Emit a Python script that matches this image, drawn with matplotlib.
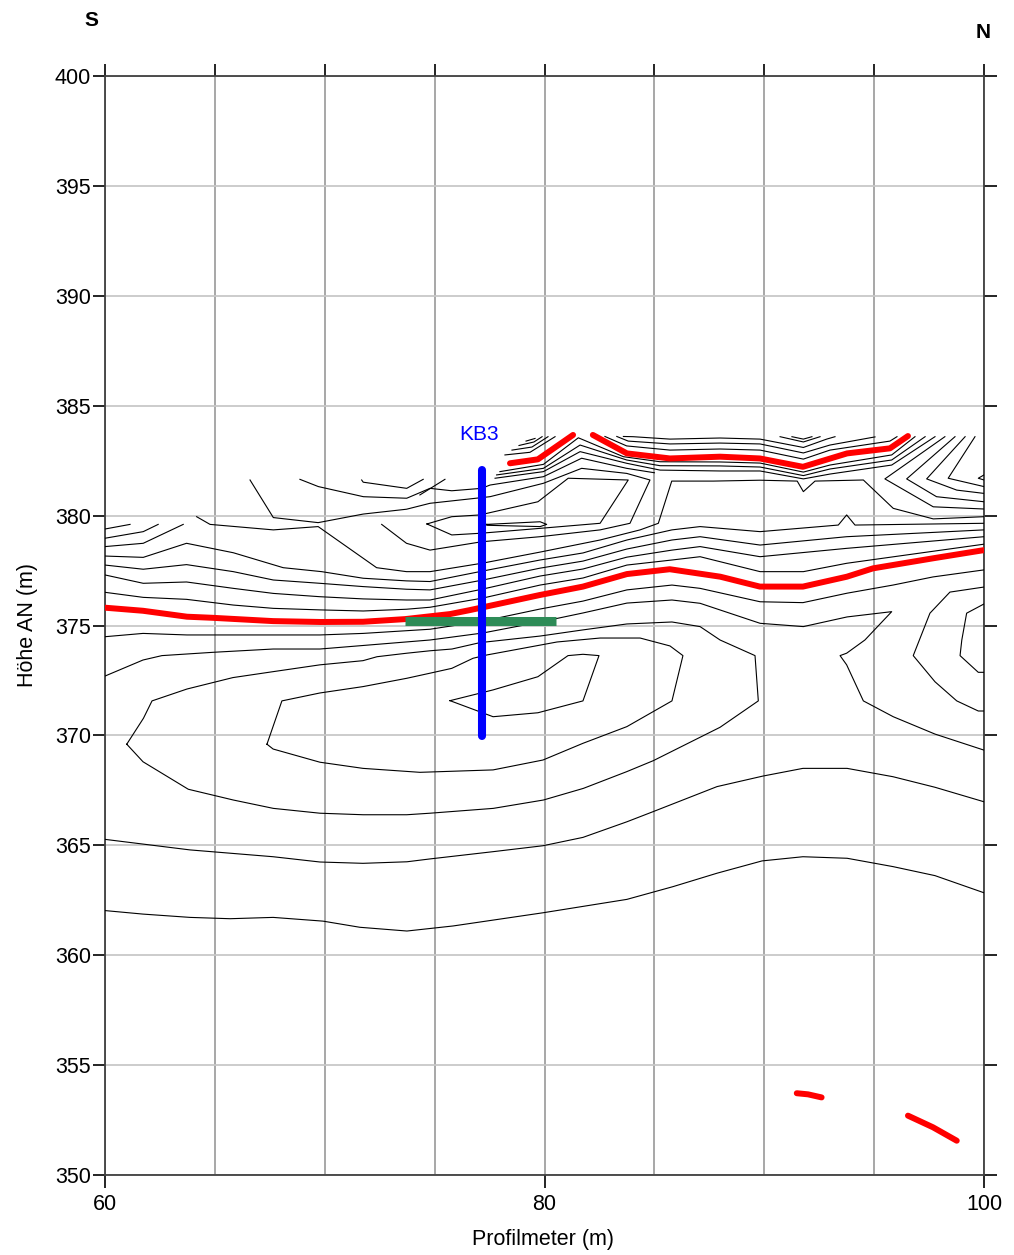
import matplotlib

matplotlib.use("Agg")
import matplotlib.pyplot as plt

plt.rcParams["font.family"] = ["Liberation Sans", "DejaVu Sans"]


# ---------------------------------------------------------------------
# Data  (x = Profilmeter in m, y = Höhe AN in m)
# ---------------------------------------------------------------------

X_TICKS = [60, 80, 100]
X_GRID = [60, 65, 70, 75, 80, 85, 90, 95, 100]
Y_TICKS = [350, 355, 360, 365, 370, 375, 380, 385, 390, 395, 400]

# black isolines
iso_362 = [(60.00, 362.03), (61.73, 361.87), (63.87, 361.72), (65.69, 361.66), (67.65, 361.72),
           (69.92, 361.55), (71.60, 361.27), (73.74, 361.10), (75.84, 361.33), (79.93, 361.93),
           (83.75, 362.54), (85.85, 363.12), (87.85, 363.73), (89.90, 364.29), (91.76, 364.48),
           (93.77, 364.41), (95.86, 364.03), (97.77, 363.62), (100.00, 362.84)]
iso_365 = [(60.00, 365.27), (63.87, 364.79), (67.65, 364.48), (69.78, 364.24), (71.74, 364.18),
           (73.74, 364.25), (74.79, 364.38), (77.66, 364.71), (79.93, 364.98), (81.75, 365.36),
           (83.75, 366.07), (84.94, 366.53), (87.85, 367.67), (89.94, 368.15), (91.76, 368.50),
           (93.77, 368.50), (95.86, 368.12), (97.77, 367.64), (100.00, 366.98)]
ring_outer = [(60.99, 369.60), (61.73, 368.80), (63.79, 367.55), (65.84, 367.06), (67.66, 366.68),
              (69.78, 366.46), (71.75, 366.39), (73.73, 366.39), (74.79, 366.46), (77.67, 366.68),
              (79.95, 367.06), (81.77, 367.59), (83.74, 368.35), (84.95, 368.85), (87.99, 370.37),
              (89.73, 371.57), (89.58, 373.63), (87.99, 374.34), (87.08, 374.95), (85.80, 375.16),
              (83.75, 375.07), (81.75, 374.80), (79.80, 374.52), (77.06, 374.22), (75.79, 373.93),
              (74.79, 373.85), (73.74, 373.74), (72.38, 373.58), (71.74, 373.40), (69.78, 373.21),
              (67.65, 372.90), (65.82, 372.63), (63.73, 372.11), (62.14, 371.57), (61.75, 370.78),
              (60.99, 369.60)]
ring_mid = [(67.37, 369.60), (68.05, 371.57), (69.78, 371.93), (71.74, 372.22), (73.74, 372.60),
            (74.79, 372.83), (75.78, 373.05), (76.75, 373.51), (77.38, 373.66), (80.57, 374.25),
            (82.53, 374.43), (84.35, 374.43), (85.71, 374.07), (86.30, 373.63), (85.80, 371.57),
            (83.75, 370.40), (81.75, 369.64), (79.93, 368.88), (77.66, 368.43), (74.33, 368.32),
            (71.74, 368.50), (69.78, 368.78), (67.65, 369.38), (67.37, 369.60)]
ring_inner = [(75.70, 371.58), (77.66, 372.07), (79.70, 372.67), (81.07, 373.63), (81.75, 373.69),
              (82.48, 373.63), (81.75, 371.57), (79.70, 371.03), (77.66, 370.85), (75.70, 371.58)]
iso_a = [(60.00, 372.70), (61.73, 373.43), (62.59, 373.63), (64.91, 373.78), (67.65, 373.93),
         (69.78, 373.93), (74.79, 374.34), (77.20, 374.66), (79.80, 375.16), (81.75, 375.57),
         (83.75, 376.02), (85.80, 376.16), (87.08, 376.01), (89.81, 375.10), (91.78, 374.95),
         (93.77, 375.39), (95.80, 375.63), (94.58, 374.34), (93.75, 373.74), (93.45, 373.63),
         (93.75, 373.21), (94.51, 371.57), (95.87, 370.85), (97.77, 370.06), (100.00, 369.33)]
iso_b = [(60.00, 374.49), (61.73, 374.64), (63.73, 374.57), (67.65, 374.57), (69.78, 374.57),
         (71.74, 374.64), (74.79, 374.83), (77.20, 375.20), (79.80, 375.75), (81.75, 376.11),
         (83.75, 376.62), (85.80, 376.84), (87.08, 376.69), (89.81, 376.08), (91.76, 376.04),
         (93.77, 376.47), (95.86, 376.84), (97.68, 377.21), (100.00, 377.53)]
iso_s2 = [(100.00, 376.75), (98.45, 376.52), (97.54, 375.56), (96.78, 373.63), (97.77, 372.44),
          (98.76, 371.57), (99.74, 371.11), (100.00, 371.11)]
iso_s3 = [(100.00, 375.98), (99.21, 375.56), (98.99, 374.34), (98.91, 373.63), (99.74, 372.87),
          (100.00, 372.87)]
iso_l7 = [(60.00, 376.51), (61.74, 376.28), (63.71, 376.19), (65.84, 375.93), (67.66, 375.78),
          (69.78, 375.71), (71.75, 375.66), (73.72, 375.74), (74.79, 375.83), (77.20, 376.25),
          (79.80, 376.84), (81.75, 377.16), (83.75, 377.75), (85.80, 377.98), (87.08, 378.13),
          (89.81, 377.45), (91.78, 377.45), (93.75, 377.83), (100.00, 378.70)]
iso_l6 = [(60.00, 377.30), (61.74, 376.92), (63.71, 376.98), (65.84, 376.69), (67.66, 376.46),
          (69.78, 376.31), (71.75, 376.21), (73.72, 376.16), (74.79, 376.16), (77.20, 376.66),
          (79.80, 377.25), (81.75, 377.57), (83.75, 378.11), (85.80, 378.43), (87.08, 378.59),
          (89.81, 378.13), (93.75, 378.51), (100.00, 379.04)]
iso_l5 = [(60.00, 377.75), (61.74, 377.56), (63.71, 377.77), (65.84, 377.45), (67.66, 377.07),
          (69.78, 376.92), (71.75, 376.77), (73.72, 376.65), (74.79, 376.62), (77.20, 377.07),
          (79.80, 377.61), (81.75, 377.93), (83.75, 378.48), (85.80, 378.89), (87.08, 379.04),
          (89.81, 378.66), (93.75, 379.04), (100.00, 379.35)]
iso_l4 = [(60.00, 378.16), (61.74, 378.10), (63.71, 378.74), (65.84, 378.31), (68.11, 377.63),
          (69.86, 377.45), (71.75, 377.15), (73.72, 377.03), (74.79, 377.00), (77.20, 377.48),
          (79.80, 377.98), (81.75, 378.30), (83.75, 378.89), (85.80, 379.35), (87.08, 379.50),
          (89.81, 379.27), (93.37, 379.57), (93.75, 380.03), (94.13, 379.57), (100.00, 379.65)]
iso_n1 = [(64.17, 379.95), (64.78, 379.60), (67.66, 379.35), (69.70, 379.50), (72.36, 377.63),
          (73.72, 377.45), (74.79, 377.45), (77.20, 377.84), (79.80, 378.34), (82.53, 378.89),
          (84.35, 379.35), (85.18, 379.65), (85.79, 381.57), (87.68, 381.57), (89.81, 381.61),
          (91.50, 381.57), (91.78, 381.09), (92.31, 381.57), (94.51, 381.62), (95.87, 380.33),
          (97.69, 379.85), (100.00, 379.95)]
iso_w = [(66.60, 381.62), (67.66, 379.91), (69.70, 379.68), (71.75, 380.07), (73.72, 380.29),
         (74.79, 380.56), (77.52, 380.86), (79.95, 381.47), (81.69, 382.15), (83.74, 381.92),
         (84.80, 381.62), (83.89, 379.65), (82.53, 379.35), (79.80, 379.04), (77.14, 378.81),
         (75.78, 378.59), (74.79, 378.43), (73.72, 378.74), (72.59, 379.60)]
loop = [(74.65, 379.62), (75.78, 379.95), (77.06, 380.03), (79.70, 380.63), (81.08, 381.70),
        (83.81, 381.62), (82.53, 379.65), (79.80, 379.42), (77.14, 379.20), (75.78, 379.12),
        (74.65, 379.62)]
lens = [(77.37, 379.60), (79.80, 379.72), (80.10, 379.60), (79.80, 379.50), (77.37, 379.56),
        (77.37, 379.60)]
iso_c1 = [(77.97, 382.00), (79.95, 382.33), (81.54, 383.54), (83.59, 382.68), (85.26, 382.45),
          (87.99, 382.44), (89.81, 382.39), (91.78, 381.98), (92.99, 382.30), (95.80, 382.76),
          (96.86, 383.59)]
iso_c2 = [(77.82, 381.85), (79.95, 382.15), (81.62, 383.21), (83.74, 382.53), (85.26, 382.27),
          (87.99, 382.26), (89.81, 382.21), (91.78, 381.82), (92.99, 382.12), (95.80, 382.53),
          (97.32, 383.59)]
iso_c3 = [(77.75, 381.70), (79.95, 382.00), (81.62, 382.91), (83.74, 382.38), (85.26, 382.07),
          (87.99, 382.03), (89.81, 382.03), (91.78, 381.67), (92.99, 381.89), (95.80, 382.30),
          (97.77, 383.59)]
iso_c4 = [(68.87, 381.65), (69.71, 381.32), (71.76, 380.86), (73.73, 380.79), (74.79, 381.24),
          (75.78, 381.13), (77.14, 381.24), (77.52, 381.39), (79.95, 381.77), (81.69, 382.61),
          (83.74, 382.15), (85.00, 381.95)]
iso_t4 = [(71.68, 381.62), (71.75, 381.52), (73.73, 381.24), (74.48, 381.65)]
iso_t5 = [(74.33, 380.94), (75.47, 381.65)]
iso_e1 = [(60.00, 379.39), (61.14, 379.60)]
iso_e2 = [(60.00, 378.97), (61.74, 379.27), (62.42, 379.60)]
iso_e3 = [(60.00, 378.59), (61.74, 378.74), (63.56, 379.60)]
iso_u1 = [(78.20, 382.76), (79.34, 382.88), (80.48, 383.59)]
iso_u2 = [(78.52, 382.98), (79.43, 383.12), (80.16, 383.59)]
iso_u3 = [(78.84, 383.19), (79.52, 383.35), (79.89, 383.59)]
iso_u4 = [(79.16, 383.39), (79.57, 383.51)]
iso_r1 = [(82.75, 383.60), (83.74, 383.17), (85.71, 382.98), (87.99, 383.03), (89.81, 382.98),
          (91.78, 382.57), (92.99, 382.98), (95.72, 383.39), (96.04, 383.59)]
iso_r2 = [(83.29, 383.60), (83.81, 383.39), (85.71, 383.26), (87.99, 383.30), (89.81, 383.26),
          (91.78, 382.85), (92.99, 383.21), (95.04, 383.58)]
iso_r3 = [(83.59, 383.60), (84.03, 383.59), (85.71, 383.48), (87.99, 383.53), (89.81, 383.48),
          (91.78, 383.10), (92.84, 383.48), (93.22, 383.59)]
iso_ch1 = [(90.72, 383.59), (91.78, 383.35), (92.54, 383.59)]
iso_ch2 = [(91.26, 383.59), (91.78, 383.48), (92.17, 383.59)]
iso_v1 = [(98.22, 383.59), (95.49, 381.67), (97.69, 380.40), (100.00, 380.30)]
iso_v2 = [(98.68, 383.59), (96.48, 381.67), (97.84, 380.86), (100.00, 380.63)]
iso_v3 = [(99.14, 383.59), (97.39, 381.67), (98.76, 381.16), (100.00, 381.01)]
iso_v4 = [(99.59, 383.59), (98.37, 381.70), (100.00, 381.32)]
iso_v5 = [(100.00, 381.85), (99.74, 381.70), (100.00, 381.62)]

ISOLINES = [iso_362, iso_365, ring_outer, ring_mid, ring_inner, iso_a, iso_b, iso_s2, iso_s3,
            iso_l7, iso_l6, iso_l5, iso_l4, iso_n1, iso_w, loop, lens, iso_c1, iso_c2, iso_c3,
            iso_c4, iso_t4, iso_t5, iso_e1, iso_e2, iso_e3, iso_u1, iso_u2, iso_u3, iso_u4,
            iso_r1, iso_r2, iso_r3, iso_ch1, iso_ch2, iso_v1, iso_v2, iso_v3, iso_v4, iso_v5]

# red interpreted horizons
red_main = [(60.00, 375.81), (61.73, 375.67), (63.73, 375.40), (64.90, 375.35), (67.65, 375.20),
            (69.80, 375.16), (71.74, 375.17), (73.65, 375.29), (75.70, 375.52), (76.60, 375.70),
            (79.80, 376.39), (81.75, 376.77), (83.75, 377.34), (85.70, 377.56), (88.00, 377.22),
            (89.80, 376.77), (91.76, 376.77), (93.76, 377.22), (94.95, 377.60), (97.70, 378.06),
            (100.00, 378.43)]
red_top_left = [(78.43, 382.38), (79.70, 382.56), (81.30, 383.67)]
red_top_right = [(82.20, 383.67), (83.75, 382.83), (85.71, 382.60), (87.99, 382.68), (89.80, 382.60),
                 (91.76, 382.22), (93.77, 382.83), (95.72, 383.06), (96.54, 383.62)]
red_deep_a = [(91.48, 353.72), (91.99, 353.67), (92.61, 353.53)]
red_deep_b = [(96.54, 352.70), (97.68, 352.17), (98.76, 351.56)]
RED_LINES = [red_main, red_top_left, red_top_right, red_deep_a, red_deep_b]

# borehole KB3 and its marker level
KB3_X = 77.16
KB3_TOP = 382.07
KB3_BOTTOM = 369.97
KB3_LABEL = "KB3"
MARK_LEVEL = 375.2
MARK_FROM = 73.65
MARK_TO = 80.52


# ---------------------------------------------------------------------
# Plot
# ---------------------------------------------------------------------

def draw_section() -> None:
    fig = plt.figure(figsize=(10.14, 12.55), dpi=100)
    ax = fig.add_axes([105 / 1014, 1 - 1175 / 1255, 879 / 1014, 1099 / 1255])

    for line in ISOLINES:
        xs, ys = zip(*line)
        ax.plot(xs, ys, color="black", lw=0.8, zorder=3)

    for line in RED_LINES:
        xs, ys = zip(*line)
        ax.plot(xs, ys, color="#ff0000", lw=4.3, solid_capstyle="round",
                solid_joinstyle="round", zorder=4)

    ax.plot([MARK_FROM, MARK_TO], [MARK_LEVEL, MARK_LEVEL], color="#2e8b57", lw=6.5,
            solid_capstyle="butt", zorder=5)
    ax.plot([KB3_X, KB3_X], [KB3_BOTTOM, KB3_TOP], color="#0000ff", lw=5.8,
            solid_capstyle="round", zorder=6)
    ax.text(77.02, 383.71, KB3_LABEL, color="#0000ff", fontsize=15, ha="center", va="center")

    ax.set_xlim(60, 100)
    ax.set_ylim(350, 400)
    ax.set_xticks(X_TICKS)
    ax.set_xticks(X_GRID, minor=True)
    ax.set_yticks(Y_TICKS)

    ax.grid(True, which="both", axis="x", color="#a0a0a0", lw=1.3)
    ax.grid(True, which="major", axis="y", color="#c8c8c8", lw=1.3)
    ax.set_axisbelow(True)

    ax.tick_params(axis="x", which="major", direction="out", length=9, width=1.2,
                   top=True, bottom=True, labelsize=15.5, pad=5)
    ax.tick_params(axis="x", which="minor", direction="out", length=9, width=1.2,
                   top=True, bottom=False)
    ax.tick_params(axis="y", which="major", direction="out", length=9, width=1.2,
                   left=True, right=True, labelsize=15.5, pad=1)
    for spine in ax.spines.values():
        spine.set_color("#404040")
        spine.set_linewidth(1.3)

    fig.text(543 / 1014, 1 - 1240 / 1255, "Profilmeter (m)", fontsize=15.5,
             ha="center", va="center")
    fig.text(27 / 1014, 1 - 625 / 1255, "Höhe AN (m)", fontsize=15.5, rotation=90,
             ha="center", va="center")
    fig.text(91 / 1014, 1 - 20 / 1255, "S", fontsize=15, fontweight="bold",
             ha="center", va="center")
    fig.text(983 / 1014, 1 - 33 / 1255, "N", fontsize=15, fontweight="bold",
             ha="center", va="center")

    fig.savefig("out.png", dpi=100)
    plt.close(fig)


def main() -> None:
    draw_section()


if __name__ == "__main__":
    main()
